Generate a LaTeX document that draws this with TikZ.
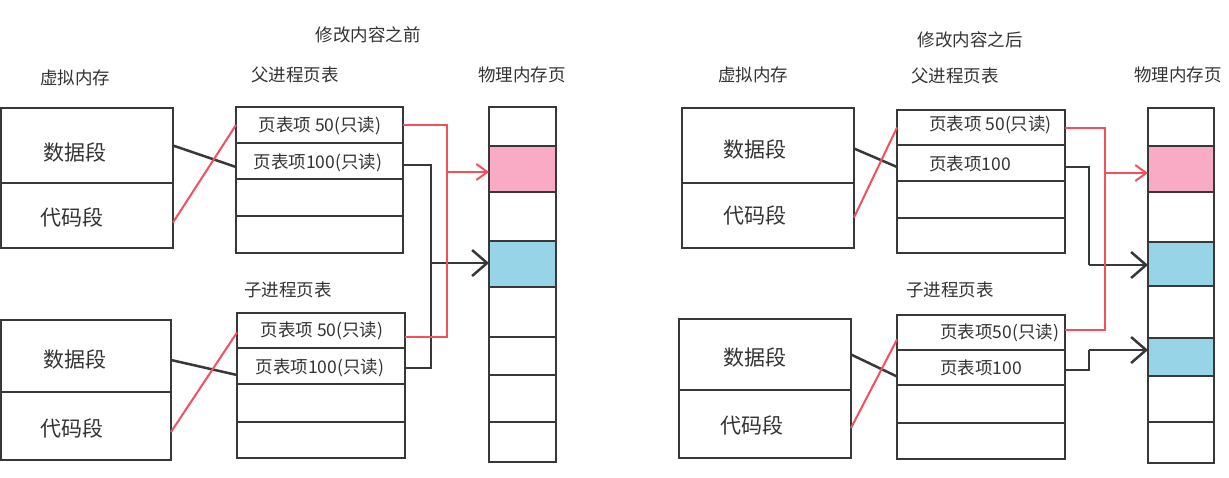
\documentclass[tikz,border=0pt]{standalone}
\usepackage{fontspec}
\setmainfont{Noto Sans CJK SC}
\usetikzlibrary{arrows.meta,calc}
\definecolor{ink}{HTML}{383838}
\definecolor{txt}{HTML}{333333}
\definecolor{redl}{HTML}{F2505C}
\definecolor{pinkf}{HTML}{F9AAC5}
\definecolor{bluef}{HTML}{97D4E7}
\newcommand\cellbox[6][]{%
  \pgfmathsetmacro\cw{#5-#3}\pgfmathsetmacro\ch{#6-#4}%
  \node[cellst,minimum width=\cw pt,minimum height=\ch pt,#1] (#2) at ({(#3+#5)/2},{(#4+#6)/2}) {};}
\begin{document}
\begin{tikzpicture}[x=1pt,y=-1pt,
  cellst/.style={draw=ink,line width=2.5pt,inner sep=0pt,outer sep=0pt},
  lbl/.style={text=txt,font=\fontsize{17.5}{20}\selectfont,inner sep=0pt},
  seg/.style={text=txt,font=\fontsize{21}{24}\selectfont,inner sep=0pt},
  ent/.style={text=txt,font=\fontsize{17.5}{20}\selectfont,inner sep=0pt},
  blk/.style={draw=ink,line width=2.5pt},
  rd/.style={draw=redl,line width=2pt},
  btip/.style={-{Straight Barb[length=15pt,width=26pt]}},
  rtip/.style={-{Straight Barb[length=11pt,width=16pt]}}]
\useasboundingbox[fill=white] (0,0) rectangle (1229,477);

% ================= LEFT =================
\node[lbl] (tL) at (368,35) {修改内容之前};
\node[lbl] (hvL) at (75,78) {虚拟内存};
\node[lbl] (hpL) at (295,75) {父进程页表};
\node[lbl] (hmL) at (522,75) {物理内存页};
\node[lbl] (hcL) at (288,290) {子进程页表};

\cellbox{vLd}{1}{108}{173}{183}
\cellbox{vLc}{1}{183}{173}{248}
\cellbox{cvLd}{1}{320}{171}{392}
\cellbox{cvLc}{1}{392}{171}{460}
\node[seg] (svLd) at (75,152) {数据段};
\node[seg] (svLc) at (72,217) {代码段};
\node[seg] (scvLd) at (75,359) {数据段};
\node[seg] (scvLc) at (72,428) {代码段};

\cellbox{pL50}{236}{107}{403}{143}
\cellbox{pL100}{236}{143}{403}{179}
\cellbox{pL3}{236}{179}{403}{216}
\cellbox{pL4}{236}{216}{403}{253}
\node[ent] (epL50) at (320,126) {页表项 50(只读)};
\node[ent] (epL100) at (318,163) {页表项100(只读)};

\cellbox{cL50}{237}{313}{405}{348}
\cellbox{cL100}{237}{348}{405}{384}
\cellbox{cL3}{237}{384}{405}{422}
\cellbox{cL4}{237}{422}{405}{458}
\node[ent] (ecL50) at (322,331) {页表项 50(只读)};
\node[ent] (ecL100) at (320,368) {页表项100(只读)};

\cellbox{phL1}{489}{107}{556}{146}
\cellbox[fill=pinkf]{phL2}{489}{146}{556}{192}
\cellbox{phL3}{489}{192}{556}{241}
\cellbox[fill=bluef]{phL4}{489}{241}{556}{287}
\cellbox{phL5}{489}{287}{556}{337}
\cellbox{phL6}{489}{337}{556}{375}
\cellbox{phL7}{489}{375}{556}{422}
\cellbox{phL8}{489}{422}{556}{462}

\draw[blk] (vLd.east) -- ([yshift=-6pt]pL100.west);
\draw[blk] ([yshift=-4pt]cvLd.east) -- ([yshift=-9pt]cL100.west);
\draw[rd] ([yshift=-7pt]vLc.east) -- (pL50.west);
\draw[rd] ([yshift=-6pt]cvLc.east) -- ([yshift=-2pt]cL50.west);

\coordinate (bL) at (431,263);
\coordinate (rL) at (447,172);
\draw[blk] ([yshift=-4pt]pL100.east) -| (bL) |- ([yshift=-2pt]cL100.east);
\draw[blk,btip] (bL) -- (bL -| phL4.west);
\draw[rd] (pL50.east) -| (rL) |- ([yshift=-6pt]cL50.east);
\draw[rd,rtip] (rL) -- (rL -| phL2.west);

% ================= RIGHT =================
\node[lbl] (tR) at (970,40) {修改内容之后};
\node[lbl] (hvR) at (753,75) {虚拟内存};
\node[lbl] (hpR) at (955,76) {父进程页表};
\node[lbl] (hmR) at (1178,75) {物理内存页};
\node[lbl] (hcR) at (950,290) {子进程页表};

\cellbox{vRd}{682}{108}{854}{183}
\cellbox{vRc}{682}{183}{854}{248}
\cellbox{cvRd}{679}{319}{851}{390}
\cellbox{cvRc}{679}{390}{851}{458}
\node[seg] (svRd) at (755,149) {数据段};
\node[seg] (svRc) at (755,215) {代码段};
\node[seg] (scvRd) at (755,357) {数据段};
\node[seg] (scvRc) at (752,425) {代码段};

\cellbox{pR50}{897}{110}{1065}{145}
\cellbox{pR100}{897}{145}{1065}{181}
\cellbox{pR3}{897}{181}{1065}{218}
\cellbox{pR4}{897}{218}{1065}{253}
\node[ent,anchor=west] (epR50) at (929,125) {页表项 50(只读)};
\node[ent,anchor=west] (epR100) at (929,164) {页表项100};

\cellbox{cR50}{897}{315}{1065}{350}
\cellbox{cR100}{897}{350}{1065}{385}
\cellbox{cR3}{897}{385}{1065}{423}
\cellbox{cR4}{897}{423}{1065}{459}
\node[ent,anchor=west] (ecR50) at (940,333) {页表项50(只读)};
\node[ent,anchor=west] (ecR100) at (940,368) {页表项100};

\cellbox{phR1}{1148}{108}{1214}{146}
\cellbox[fill=pinkf]{phR2}{1148}{146}{1214}{192}
\cellbox{phR3}{1148}{192}{1214}{242}
\cellbox[fill=bluef]{phR4}{1148}{242}{1214}{286}
\cellbox{phR5}{1148}{286}{1214}{338}
\cellbox[fill=bluef]{phR6}{1148}{338}{1214}{376}
\cellbox{phR7}{1148}{376}{1214}{422}
\cellbox{phR8}{1148}{422}{1214}{463}

\draw[blk] ([yshift=-3pt]vRd.east) -- ([yshift=-4pt]pR100.west);
\draw[blk] (cvRd.east) -- ([yshift=-9pt]cR100.west);
\draw[rd] ([yshift=-2pt]vRc.east) -- (pR50.west);
\draw[rd] ([yshift=-4pt]cvRc.east) -- ([yshift=-7pt]cR50.west);

\coordinate (bR) at (1089,265);
\coordinate (bR2) at (1089,350);
\coordinate (rR) at (1105,173);
\draw[blk] ([yshift=-4pt]pR100.east) -| (bR);
\draw[blk,btip] (bR) -- (bR -| phR4.west);
\draw[blk] ([yshift=-2.5pt]cR100.east) -| (bR2);
\draw[blk,btip] (bR2) -- (bR2 -| phR6.west);
\draw[rd] (pR50.east) -| (rR) |- ([yshift=3pt]cR50.east);
\draw[rd,rtip] (rR) -- (rR -| phR2.west);
\end{tikzpicture}
\end{document}
